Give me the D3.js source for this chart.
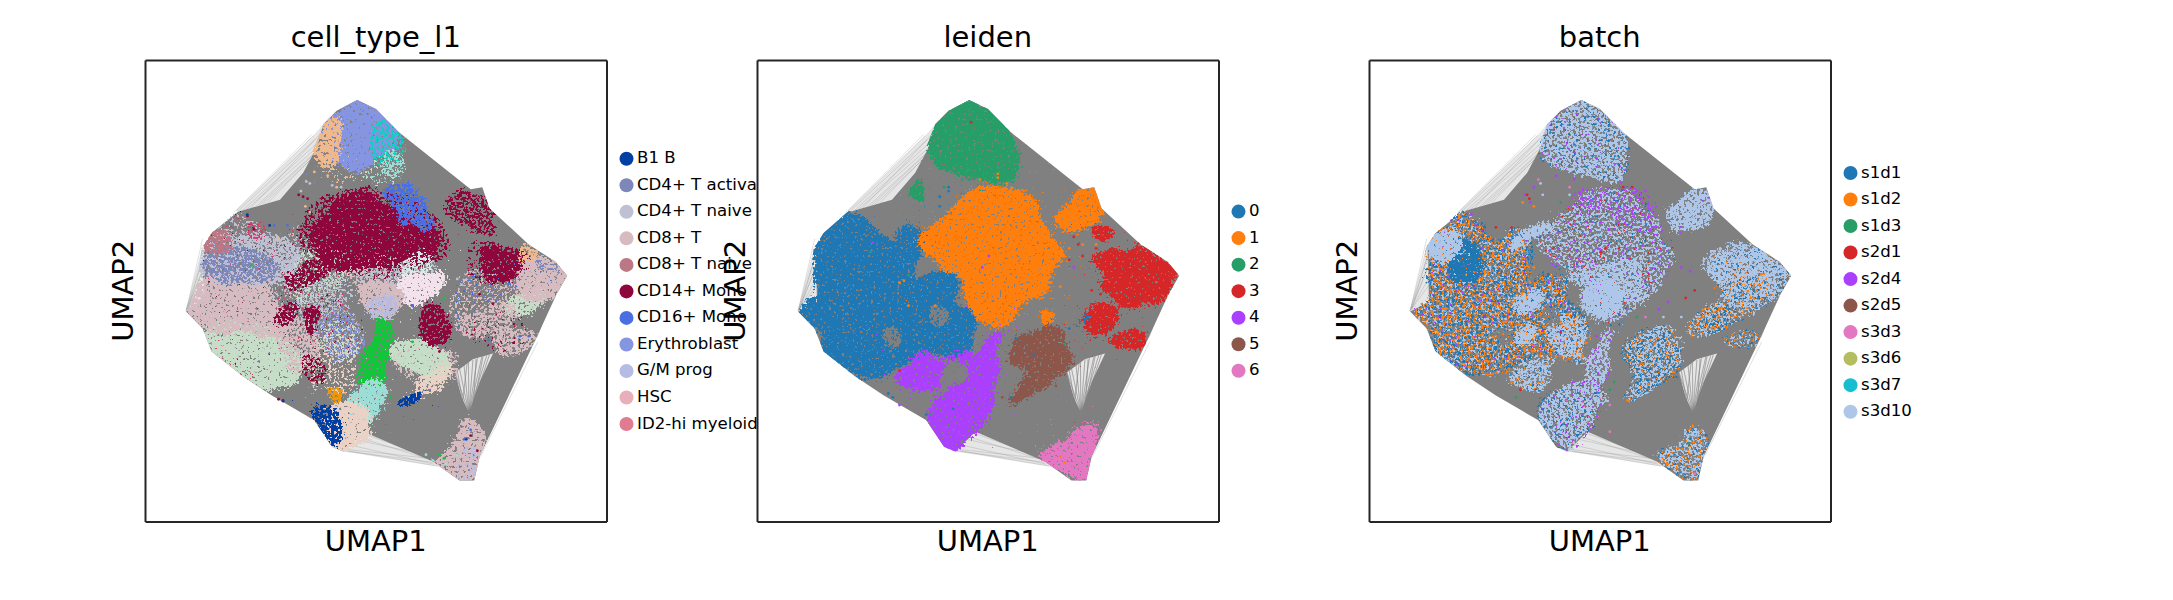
<!DOCTYPE html>
<html>
<head>
<meta charset="utf-8">
<script src="https://cdn.jsdelivr.net/npm/d3@7"></script>
<style>
  body { margin: 0; background: #fff; }
  text { font-family: "DejaVu Sans", sans-serif; fill: #000; }
</style>
</head>
<body>
<svg id="chart" width="2173" height="600"></svg>
<script>
// UMAP has no ticks, so all values are in arbitrary units read off the picture
const umap1Domain = [101, 1134];
const umap2Domain = [1365, 157];

const titles = ["cell_type_l1", "leiden", "batch"];

const cellTypes = ["B1 B", "CD4+ T activated", "CD4+ T naive", "CD8+ T", "CD8+ T naive", "CD14+ Mono",
  "CD16+ Mono", "Erythroblast", "G/M prog", "HSC", "ID2-hi myeloid prog"];
const cellColors = ["#023fa5", "#7d87b9", "#bec1d4", "#d6bcc0", "#bb7784", "#8e063b", "#4a6fe3", "#8595e1",
  "#b5bbe3", "#e6afb9", "#e07b91", "#d33f6a", "#11c638", "#8dd593", "#c6dec7", "#ead3c6", "#f0b98d",
  "#ef9708", "#0fcfc0", "#9cded6", "#d5eae7", "#f3e1eb"];

const leidenLabels = ["0", "1", "2", "3", "4", "5", "6"];
const batchLabels = ["s1d1", "s1d2", "s1d3", "s2d1", "s2d4", "s2d5", "s3d3", "s3d6", "s3d7", "s3d10"];
const batchColors = ["#1f77b4", "#ff7f0e", "#279e68", "#d62728", "#aa40fc", "#8c564b", "#e377c2", "#b5bd61", "#17becf", "#aec7e8"];

// Solid part of the neighbour graph, with the white wedge at lower right
const graphHull = [[576,262],[618,285],[668,345],[830,495],[856,490],[872,545],[960,640],[1020,685],[1046,722],
  [1020,775],[975,890],[850,1195],[838,1258],[805,1258],[745,1208],[590,1130],[545,1182],[520,1170],[480,1100],
  [385,1035],[320,985],[250,920],[230,860],[193,815],[235,790],[233,650],[250,610],[309,554],[403,523],[455,452],
  [486,384],[500,325],[530,290]];
const graphWedge = [[795,975],[835,940],[880,925],[850,1000],[826,1080],[810,1040]];

// Where the clouds of cells may reach: the outer rim of the graph
const cloudRim = [[576,262],[618,285],[668,345],[830,495],[856,490],[872,545],[960,640],[1020,685],[1046,722],
  [1020,775],[975,890],[850,1195],[838,1258],[805,1258],[745,1208],[590,1160],[545,1182],[520,1170],[480,1100],
  [385,1035],[320,985],[250,920],[230,860],[193,815],[215,760],[228,650],[250,610],[305,553],[403,523],[455,452],
  [480,384],[500,325],[530,290]];

// Thin veil of edges too dense to list one by one
const edgeVeils = [
  [[305,552],[480,352],[500,325],[486,384],[455,452],[403,523],[309,554]],
  [[193,815],[233,640],[235,790]],
  [[545,1182],[590,1130],[745,1208],[760,1222]],
  [[795,975],[835,940],[880,925],[850,1000],[826,1080],[810,1040]],
  [[1020,775],[1000,790],[965,895],[975,890]]
];

// Loose graph edges outside the solid part
const graphEdges = [
  [[305,552],[478,355]],[[310,552],[482,365]],[[318,552],[486,375]],[[326,550],[490,382]],[[335,548],[494,350]],
  [[345,545],[488,392]],[[355,540],[478,405]],[[300,556],[474,352]],[[365,535],[470,420]],[[375,532],[486,400]],
  [[193,813],[232,640]],[[193,813],[236,655]],[[194,811],[240,680]],[[195,812],[232,700]],[[196,810],[238,720]],
  [[197,808],[232,670]],[[198,806],[236,745]],[[193,815],[230,625]],
  [[545,1180],[745,1210]],[[550,1176],[740,1200]],[[560,1165],[748,1215]],[[570,1150],[735,1192]],[[556,1180],[755,1220]],
  [[580,1145],[730,1200]],[[590,1135],[720,1190]],
  [[826,1082],[795,975]],[[826,1082],[805,965]],[[826,1082],[815,955]],[[826,1082],[825,948]],[[826,1082],[835,942]],
  [[826,1082],[845,938]],[[826,1082],[855,934]],[[826,1082],[866,930]],[[812,1050],[800,970]],[[812,1050],[822,950]],
  [[836,1060],[842,940]],[[836,1060],[858,932]],[[840,1040],[872,928]],[[818,1070],[785,980]],
  [[1020,776],[972,892]],[[1005,785],[960,905]],[[1012,780],[978,885]],[[980,895],[852,1195]],[[968,900],[840,1200]]
];

// Cluster outlines, shared by the leiden and batch panels
const topLobe = [[576,262],[618,285],[668,345],[683,410],[673,470],[638,470],[588,460],[528,440],[493,420],[483,370],[498,320],[538,285]];
const centerCloud = [[463,610],[498,585],[538,560],[558,525],[638,490],[698,500],[733,560],[753,620],[788,660],[768,700],[738,770],[698,790],[668,840],[628,850],[588,810],[573,760],[558,720],[508,690],[488,650]];
const upperRight = [[778,550],[818,510],[858,490],[878,545],[848,590],[788,600],[768,580]];
const rightMain = [[858,680],[898,655],[953,660],[963,640],[1003,680],[1033,690],[1046,722],[1018,765],[978,790],[938,800],[898,780],[878,750],[878,710],[843,690]];
const rightLow = [[833,830],[868,795],[903,800],[908,835],[878,870],[843,870]];
const rightFoot = [[893,890],[948,865],[976,880],[963,905],[903,905]];
const rightBud = [[856,595],[888,595],[896,615],[873,630],[853,610]];
const leftCloud = [[193,815],[233,850],[253,930],[313,980],[368,985],[418,960],[468,925],[488,915],[548,935],[588,880],[578,830],[538,790],[548,735],[498,720],[438,760],[458,690],[463,600],[428,600],[398,640],[348,590],[328,570],[303,553],[283,580],[258,600],[233,625],[233,680],[233,780]];
const stem = [[658,850],[638,900],[628,1010],[588,1010],[588,950],[618,890]];
const wing = [[413,990],[448,960],[478,925],[518,940],[578,920],[588,950],[540,945],[500,960],[498,1025],[458,1020]];
const bottomLobe = [[623,1010],[623,1060],[588,1130],[543,1183],[508,1150],[483,1095],[498,1040],[548,1010],[588,1000]];
const brownBlob = [[758,850],[798,940],[788,975],[738,1010],[683,1050],[668,1050],[708,990],[678,950],[673,900],[718,880]];
const bottomRight = [[833,1115],[853,1130],[856,1180],[843,1255],[813,1258],[778,1235],[733,1190],[788,1170],[808,1140]];
const greenSliver = [[443,505],[468,470],[473,525]];
const blueSliver = [[798,865],[848,815],[833,840]];
const orangeBud = [[733,810],[768,825],[753,855]];
const paleBlob = [[585,755],[650,740],[660,800],[630,830],[590,810]];
const gapA = [[385,860],[415,860],[420,900],[390,905]];
const gapB = [[495,800],[525,810],[525,850],[495,850]];

// Extra shapes of the batch panel
const arcStream = [[405,650],[420,625],[470,590],[510,590],[500,610],[450,625],[425,660]];
const diagStream = [[424,800],[490,755],[500,775],[430,825]];
const lowStream = [[424,885],[468,850],[475,870],[435,905]];
const midBlob = [[500,850],[580,830],[590,900],[550,930],[500,900]];
const lowBlob = [[430,960],[500,950],[500,1010],[460,1020],[420,1000]];
const leftCap = [[233,625],[290,610],[300,660],[240,680]];
const bluePatch = [[290,640],[340,640],[350,720],[290,740]];
const rightWide = [[805,870],[890,780],[960,700],[1010,770],[950,820],[900,860],[840,880]];
const rightBand = [[840,680],[960,640],[1040,720],[960,720],[880,740]];
const lowerMid = [[665,900],[780,860],[800,960],[740,1010],[680,1050],[690,980]];
const centerPale = [[540,720],[700,690],[720,790],[620,760]];
const centerRing = [[530,520],[720,500],[760,640],[640,560]];

// [colour, share of the area covered by points, outline]
const cellHaze = [
  [2, .3, leftCloud], [9, .1, leftCloud], [11, .07, leftCloud], [5, .03, leftCloud],
  [5, .5, [[440,600],[540,500],[700,520],[780,640],[720,700],[560,720]]],
  [14, .45, [[420,700],[520,640],[560,720],[450,790]]],
  [2, .4, [[440,780],[540,720],[570,780],[500,830],[440,830]]],
  [3, .45, [[540,700],[680,680],[690,760],[590,760]]],
  [3, .4, [[810,730],[1000,700],[1000,790],[880,800],[800,870]]],
  [6, .15, [[810,730],[1000,700],[1000,790],[880,800],[800,870]]],
  [5, .3, [[820,640],[900,640],[950,700],[850,740]]],
  [14, .16, [[500,420],[680,420],[660,480],[540,470]]],
  [16, .2, [[490,420],[560,440],[560,480],[500,460]]],
  [19, .25, [[600,420],[680,420],[660,470],[600,470]]],
  [3, .5, [[640,900],[800,930],[800,980],[700,1010],[660,950]]],
  [15, .4, [[470,900],[560,880],[570,1010],[480,1010]]],
  [2, .45, [[570,700],[760,690],[720,760],[620,780]]],
  [5, .12, [[800,860],[930,820],[960,900],[880,920]]]
];
const cellRegions = cellHaze.concat([
  [7, .95, [[575,262],[615,285],[655,330],[650,390],[600,430],[555,445],[530,420],[530,370],[510,330],[530,290]]],
  [16, .8, [[500,325],[535,310],[530,370],[535,430],[490,425],[480,370]]],
  [18, .5, [[620,310],[670,345],[680,400],[630,430],[610,400]]],
  [19, .5, [[640,395],[685,405],[675,455],[630,450]]],
  [5, .86, [[465,605],[510,570],[545,520],[610,515],[660,545],[705,590],[765,620],[745,665],[700,685],[640,695],[570,705],[520,695],[478,640]]],
  [6, .7, [[645,495],[700,490],[735,550],[745,600],[690,585],[645,535]]],
  [5, .6, [[770,545],[820,495],[865,530],[875,570],[895,625],[850,605],[790,575]]],
  [5, .85, [[850,655],[905,645],[965,690],[925,725],[870,735],[858,700]]],
  [20, .55, [[675,690],[735,660],[735,715],[675,725]]],
  [21, .98, [[675,728],[735,722],[770,712],[745,775],[710,800],[675,765]]],
  [3, .85, [[575,755],[655,745],[675,790],[640,835],[590,805]]],
  [8, .65, [[600,785],[665,775],[655,835],[620,840]]],
  [12, .85, [[622,835],[665,868],[645,915],[630,960],[630,1015],[585,1005],[580,950],[610,900]]],
  [19, .96, [[588,1005],[630,1005],[630,1065],[592,1105],[556,1050]]],
  [15, .96, [[515,1055],[592,1075],[605,1130],[548,1185],[518,1168],[505,1110]]],
  [0, .78, [[486,1060],[528,1088],[532,1172],[488,1135],[476,1100]]],
  [17, .75, [[510,1020],[550,1020],[532,1060]]],
  [14, .92, [[236,860],[330,845],[405,875],[455,960],[435,1005],[350,1005],[318,990],[247,925]]],
  [3, .88, [[226,735],[340,725],[425,850],[405,880],[330,865],[238,865],[198,815]]],
  [2, .7, [[232,635],[330,615],[435,628],[445,680],[405,745],[300,735],[228,725]]],
  [1, .62, [[248,655],[340,655],[405,710],[320,740],[238,715]]],
  [4, .8, [[232,618],[278,606],[294,652],[232,655]]],
  [11, .4, [[332,585],[364,580],[370,625],[336,625]]],
  [11, .18, [[230,860],[308,990],[365,995],[248,905]]],
  [7, .42, [[485,835],[565,815],[595,905],[552,945],[495,905]]],
  [14, .32, [[485,860],[575,855],[565,945],[495,925]]],
  [3, .6, [[395,845],[475,855],[485,965],[428,965]]],
  [5, .65, [[415,728],[525,675],[505,715],[428,765]]],
  [5, .7, [[392,832],[442,785],[440,818],[402,850]]],
  [5, .85, [[460,815],[490,810],[472,878]]],
  [5, .5, [[456,925],[500,945],[500,1005],[462,985]]],
  [14, .92, [[650,910],[722,895],[775,938],[785,988],[720,985]]],
  [15, .72, [[676,1045],[740,985],[795,955],[765,1005],[702,1045]]],
  [5, .82, [[725,800],[775,828],[775,905],[732,895]]],
  [0, .9, [[665,1056],[720,1026],[702,1056]]],
  [14, .8, [[915,790],[1005,765],[965,815],[928,825]]],
  [3, .88, [[955,688],[1022,686],[1048,722],[1022,778],[935,772]]],
  [1, .42, [[968,658],[1003,682],[1044,720],[978,702]]],
  [16, .65, [[944,646],[968,640],[978,672],[948,684]]],
  [3, .6, [[795,860],[880,785],[935,820],[892,865],[828,885]]],
  [3, .65, [[876,878],[974,866],[974,904],[898,925]]],
  [3, .84, [[805,1105],[852,1105],[858,1190],[838,1260],[805,1260],[745,1210],[788,1178]]],
  [8, .32, [[808,1178],[852,1178],[842,1254],[805,1254]]]
]);

const leidenRegions = [
  [0, .93, leftCloud],
  [1, .97, centerCloud], [1, .97, upperRight], [1, .95, orangeBud],
  [2, .97, topLobe], [2, .95, greenSliver],
  [3, .97, rightMain], [3, .95, rightLow], [3, .95, rightFoot], [3, .9, rightBud],
  [4, .97, stem], [4, .97, wing], [4, .98, bottomLobe],
  [5, .95, brownBlob],
  [6, .95, bottomRight],
  [0, .9, blueSliver]
];

const batchRegions = [
  [0, .5, leftCloud], [1, .36, leftCloud], [4, .06, leftCloud], [9, .32, leftCloud], [1, .13, leftCloud],
  [0, .32, topLobe], [4, .12, topLobe], [9, .62, topLobe],
  [0, .12, centerCloud], [4, .2, centerCloud], [3, .05, centerCloud], [9, .48, centerCloud],
  [4, .25, centerRing], [9, .6, centerPale],
  [4, .08, upperRight], [9, .75, upperRight],
  [0, .35, rightMain], [1, .16, rightMain], [9, .55, rightMain],
  [0, .3, rightWide], [1, .28, rightWide], [9, .45, rightWide], [9, .55, rightBand],
  [0, .4, rightLow], [1, .32, rightLow], [9, .32, rightLow],
  [1, .3, rightFoot], [0, .3, rightFoot], [9, .3, rightFoot],
  [4, .3, stem], [9, .62, stem],
  [0, .3, wing], [1, .3, wing], [9, .42, wing],
  [0, .35, bottomLobe], [4, .2, bottomLobe], [6, .05, bottomLobe], [9, .6, bottomLobe],
  [0, .3, brownBlob], [1, .3, brownBlob], [9, .45, brownBlob], [0, .3, lowerMid], [9, .35, lowerMid],
  [0, .3, bottomRight], [1, .3, bottomRight], [9, .5, bottomRight],
  [0, .85, bluePatch], [9, .92, leftCap], [9, .85, arcStream], [9, .85, diagStream], [9, .8, lowStream],
  [9, .6, midBlob], [9, .5, lowBlob], [9, .95, paleBlob]
];

// [colour, stray points]
const cellStrays = [
  [5, [[455,515],[465,520],[445,510],[330,565],[345,600],[700,800],[745,800],[850,770],[880,795],[400,1045],[410,1050],[760,920],[845,1180],[830,1140]]],
  [2, [[450,500],[462,475],[470,480],[520,485],[540,490],[800,730],[770,740],[810,745]]],
  [6, [[390,590],[420,590],[870,890],[940,880],[960,880],[700,800],[815,1150],[830,1125]]],
  [16, [[480,450],[510,460],[530,490],[470,555],[460,540],[400,625]]],
  [12, [[770,780],[650,1040],[700,895],[760,1190],[770,1200],[340,695]]],
  [0, [[330,562],[380,590],[690,1045],[410,1048],[820,1150]]],
  [19, [[730,1190],[745,1205],[775,1215],[800,1190]]]
];
const leidenStrays = [
  [1, [[600,470],[640,465],[660,480],[640,455],[480,670],[420,740],[430,735],[440,800],[500,800],[800,650],[830,640],[860,640],[780,1195],[790,1210],[780,750]]],
  [0, [[530,500],[510,515],[530,490],[510,540],[720,930],[680,885],[395,1030],[405,1040],[800,860],[670,1040],[480,1085],[540,1070]]],
  [3, [[830,670],[820,640],[860,650],[800,680],[850,760],[870,770],[810,620],[580,320],[420,970]]],
  [2, [[520,490],[560,470],[600,460],[355,660],[440,720],[790,900],[490,1085]]],
  [4, [[360,635],[605,700],[620,670],[810,700],[420,1060],[585,1060]]],
  [5, [[720,885],[680,1050],[650,1040],[770,1010]]]
];
const batchStrays = [
  [4, [[470,490],[462,530],[450,510],[520,460],[560,470],[330,560],[340,590],[610,880],[640,890],[800,700],[820,710],[770,790],[750,810],[700,500],[720,500]]],
  [3, [[455,510],[460,520],[420,595],[385,595],[670,490],[690,490],[810,780],[830,760],[530,870],[630,650],[620,660],[440,1020]]],
  [1, [[445,530],[470,540],[430,660],[470,700],[710,890],[740,900],[490,1000],[420,1000]]],
  [2, [[530,530],[700,830],[650,1000],[640,1020],[430,1040],[815,1160]]],
  [6, [[480,470],[550,490],[720,830],[640,1130],[640,1060],[830,1240]]],
  [9, [[485,480],[490,510],[550,510],[800,830],[760,830]]]
];

const panelLefts = [145, 757, 1369];
const panelSize = 461.5;
const panelTop = 60;

const svg = d3.select("#chart");
const defs = svg.append("defs");

// Grain is only a texture for the cloud of cells: dense inside an outline, thinning out
// past its edge. The outlines and densities come from the arrays above.
let seed = 1;
function cloudFilter(box, color, density) {
  const id = "cloud" + seed;
  const threshold = 0.72 - 0.44 * density;
  const side = Math.min(box.width, box.height);
  const f = defs.append("filter").attr("id", id).attr("filterUnits", "userSpaceOnUse")
    .attr("x", box.x - 24).attr("y", box.y - 24)
    .attr("width", box.width + 48).attr("height", box.height + 48)
    .attr("color-interpolation-filters", "sRGB");
  // rough up the smooth outline before it is softened
  f.append("feTurbulence").attr("type", "fractalNoise").attr("baseFrequency", 0.06)
    .attr("numOctaves", 2).attr("seed", seed + 500).attr("result", "wobble");
  f.append("feDisplacementMap").attr("in", "SourceAlpha").attr("in2", "wobble").attr("scale", Math.min(22, side / 2))
    .attr("xChannelSelector", "R").attr("yChannelSelector", "G").attr("result", "rough");
  f.append("feGaussianBlur").attr("in", "rough").attr("stdDeviation", Math.min(5, side / 5)).attr("result", "blur");
  const boost = f.append("feComponentTransfer").attr("in", "blur").attr("result", "soft");
  boost.append("feFuncA").attr("type", "linear").attr("slope", 1.9).attr("intercept", 0);
  f.append("feTurbulence").attr("type", "fractalNoise").attr("baseFrequency", 0.38)
    .attr("numOctaves", 2).attr("seed", seed).attr("result", "noise");
  f.append("feColorMatrix").attr("in", "noise").attr("type", "matrix")
    .attr("values", "0 0 0 0 0  0 0 0 0 0  0 0 0 0 0  1 0 0 0 0").attr("result", "noiseAlpha");
  f.append("feComposite").attr("in", "soft").attr("in2", "noiseAlpha").attr("operator", "arithmetic")
    .attr("k1", 0).attr("k2", 0.5).attr("k3", 1).attr("k4", -(0.5 + threshold)).attr("result", "sum");
  const sharpen = f.append("feComponentTransfer").attr("in", "sum").attr("result", "mask");
  sharpen.append("feFuncA").attr("type", "linear").attr("slope", 25).attr("intercept", 0);
  f.append("feFlood").attr("flood-color", color).attr("result", "ink");
  f.append("feComposite").attr("in", "ink").attr("in2", "mask").attr("operator", "in");
  seed++;
  return id;
}

function drawPanel(i, colors, regions, gaps, strays, labels, legendColors, legendTop) {
  const left = panelLefts[i];
  const right = left + panelSize;
  const bottom = panelTop + panelSize;
  const x = d3.scaleLinear().domain(umap1Domain).range([left, right]);
  const y = d3.scaleLinear().domain(umap2Domain).range([bottom, panelTop]);

  const g = svg.append("g");
  // white axes background hides what the previous legend runs into
  g.append("rect").attr("x", left).attr("y", panelTop)
    .attr("width", panelSize).attr("height", panelSize).attr("fill", "#fff");

  const straight = d3.line().x(d => x(d[0])).y(d => y(d[1]));
  const round = d3.line().x(d => x(d[0])).y(d => y(d[1])).curve(d3.curveCatmullRomClosed.alpha(0.5));

  g.append("g").selectAll("path").data(edgeVeils).enter().append("path")
    .attr("d", d => straight(d) + "Z").attr("fill", "#808080").attr("fill-opacity", 0.2);

  g.append("g").selectAll("path").data(graphEdges).enter().append("path")
    .attr("d", straight).attr("fill", "none")
    .attr("stroke", "#808080").attr("stroke-width", 0.7).attr("stroke-opacity", 0.35);

  g.append("path")
    .attr("d", straight(graphHull) + "Z" + straight(graphWedge) + "Z")
    .attr("fill", "#808080").attr("fill-rule", "evenodd");

  g.append("g").selectAll("path").data(graphEdges.slice(25, 39)).enter().append("path")
    .attr("d", straight).attr("fill", "none")
    .attr("stroke", "#808080").attr("stroke-width", 0.8).attr("stroke-opacity", 0.6);

  // clouds stay inside the rim of the graph, as the cells do
  const clipId = "rim" + i;
  defs.append("clipPath").attr("id", clipId).append("path").attr("d", straight(cloudRim) + "Z");
  const clouds = g.append("g").attr("clip-path", `url(#${clipId})`);

  const cloud = (points, color, density) => {
    const xs = d3.extent(points, d => x(d[0]));
    const ys = d3.extent(points, d => y(d[1]));
    const box = { x: xs[0], y: ys[0], width: xs[1] - xs[0], height: ys[1] - ys[0] };
    clouds.append("path").attr("d", round(points)).attr("fill", color)
      .attr("filter", `url(#${cloudFilter(box, color, density)})`);
  };
  regions.forEach(r => cloud(r[2], colors[r[0]], r[1]));
  gaps.forEach(p => cloud(p, "#808080", 0.7));

  strays.forEach(s => {
    g.append("g").selectAll("circle").data(s[1]).enter().append("circle")
      .attr("cx", d => x(d[0])).attr("cy", d => y(d[1])).attr("r", 1.4).attr("fill", colors[s[0]]);
  });

  // spines
  const noTicks = a => a.tickValues([]).tickSizeOuter(0);
  const axes = [
    [d3.axisBottom(x), 0, bottom], [d3.axisTop(x), 0, panelTop],
    [d3.axisLeft(y), left, 0], [d3.axisRight(y), right, 0]
  ];
  axes.forEach(a => {
    const ax = g.append("g").attr("transform", `translate(${a[1]},${a[2]})`).call(noTicks(a[0]));
    ax.select("path").attr("stroke", "#262626").attr("stroke-width", 2);
  });

  const mid = left + panelSize / 2;
  g.append("text").attr("x", mid).attr("y", 47).attr("text-anchor", "middle")
    .attr("font-size", 29).text(titles[i]);
  g.append("text").attr("x", mid).attr("y", 551).attr("text-anchor", "middle")
    .attr("font-size", 29).text("UMAP1");
  g.append("text").attr("transform", `translate(${left - 12},${panelTop + panelSize / 2}) rotate(-90)`)
    .attr("text-anchor", "middle").attr("font-size", 29).text("UMAP2");

  const legendY = d3.scalePoint().domain(labels).range([legendTop, legendTop + 26.52 * (labels.length - 1)]);
  const legend = g.append("g").selectAll("g").data(labels).enter().append("g");
  legend.append("circle").attr("cx", right + 20).attr("cy", d => legendY(d)).attr("r", 7)
    .attr("fill", (d, k) => legendColors[k]);
  legend.append("text").attr("x", right + 30.5).attr("y", d => legendY(d) + 4.5)
    .attr("font-size", 16.6).text(d => d);
}

drawPanel(0, cellColors, cellRegions, [], cellStrays, cellTypes, cellColors, 158.8);
drawPanel(1, batchColors, leidenRegions, [gapA, gapB], leidenStrays, leidenLabels, batchColors, 211.6);
drawPanel(2, batchColors, batchRegions, [gapA, gapB], batchStrays, batchLabels, batchColors, 173);
</script>
</body>
</html>
